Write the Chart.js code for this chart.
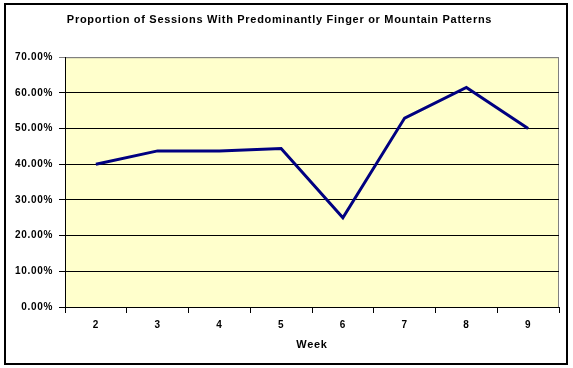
<!DOCTYPE html>
<html lang="en">
<head>
    <meta charset="UTF-8">
    <title>Proportion of Sessions</title>
    <script src="https://cdn.jsdelivr.net/npm/chart.js@4.4.0/dist/chart.umd.min.js"></script>
    <style>
        body { margin: 0; background: #ffffff; }
        #chartContainer { width: 573px; height: 368px; }
    </style>
</head>
<body>
<div id="chartContainer">
    <canvas id="myChart" width="573" height="368"></canvas>
</div>

<script>
    const weeks = ['2', '3', '4', '5', '6', '7', '8', '9'];
    const proportions = [40, 43.75, 43.75, 44.44, 25, 52.94, 61.54, 50];
    const yTickLabels = ['0.00%', '10.00%', '20.00%', '30.00%', '40.00%', '50.00%', '60.00%', '70.00%'];

    // plot background + outer frame, drawn before the grid
    const framePlugin = {
        id: 'frame',
        beforeInit(chart) {
            // excel renders its labels a bit wider
            chart.ctx.letterSpacing = '0.7px';
        },
        beforeDraw(chart) {
            const c = chart.ctx;
            const a = chart.chartArea;
            c.letterSpacing = '0.7px';
            c.save();
            c.fillStyle = '#ffffff';
            c.fillRect(0, 0, chart.width, chart.height);
            c.strokeStyle = '#000000';
            c.lineWidth = 2;
            c.strokeRect(5, 4, 562, 360);
            c.fillStyle = '#FFFFCC';
            c.fillRect(a.left, a.top, a.right - a.left, a.bottom - a.top);
            c.strokeStyle = '#808080';
            c.lineWidth = 1;
            c.strokeRect(a.left + 0.5, a.top + 0.5, a.right - a.left - 1, a.bottom - a.top);
            c.restore();
        }
    };

    const tickFont = { family: 'Arial, "Liberation Sans", sans-serif', size: 10, weight: 'bold' };

    const ctx = document.getElementById('myChart').getContext('2d');
    const myChart = new Chart(ctx, {
        type: 'line',
        data: {
            labels: weeks,
            datasets: [{
                data: proportions,
                borderColor: '#000080',
                borderWidth: 3,
                pointRadius: 0,
                tension: 0,
                fill: false
            }]
        },
        options: {
            responsive: false,
            animation: false,
            layout: {
                padding: { left: 0, right: 14, top: 0, bottom: 0 }
            },
            scales: {
                x: {
                    offset: true,
                    afterFit: scale => { scale.height = 61; },
                    grid: {
                        offset: true,
                        drawOnChartArea: false,
                        color: '#000000',
                        tickLength: 6
                    },
                    border: { color: '#000000' },
                    ticks: {
                        color: '#000000',
                        font: tickFont,
                        padding: 6,
                        maxRotation: 0
                    },
                    title: {
                        display: true,
                        text: 'Week',
                        color: '#000000',
                        font: { family: 'Arial, "Liberation Sans", sans-serif', size: 11, weight: 'bold' },
                        padding: { top: 0, bottom: 16 }
                    }
                },
                y: {
                    min: 0,
                    max: 70,
                    afterFit: scale => { scale.width = 65; },
                    grid: {
                        color: c => (c.tick && c.tick.value === 70 ? '#808080' : '#000000'),
                        tickLength: 6
                    },
                    border: { color: '#000000' },
                    ticks: {
                        stepSize: 10,
                        color: '#000000',
                        font: tickFont,
                        padding: 6,
                        callback: (v, i) => yTickLabels[i]
                    }
                }
            },
            plugins: {
                legend: { display: false },
                tooltip: { enabled: false },
                title: {
                    display: true,
                    text: 'Proportion of Sessions With Predominantly Finger or Mountain Patterns',
                    color: '#000000',
                    font: { family: 'Arial, "Liberation Sans", sans-serif', size: 11, weight: 'bold' },
                    padding: { top: 13, bottom: 31 }
                }
            }
        },
        plugins: [framePlugin]
    });
</script>
</body>
</html>
